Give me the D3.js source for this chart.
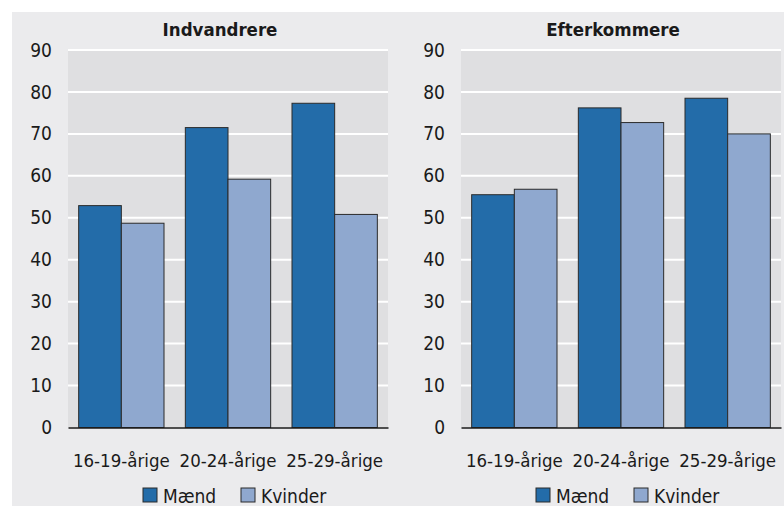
<!DOCTYPE html>
<html>
<head>
<meta charset="utf-8">
<script src="https://cdn.jsdelivr.net/npm/d3@7"></script>
<style>
  html, body { margin: 0; padding: 0; background: #ffffff; }
  svg { display: block; }
  text { font-family: "DejaVu Sans Condensed", "DejaVu Sans", sans-serif; fill: #1a1a1a; }
</style>
</head>
<body>
<svg id="chart" width="784" height="506"></svg>
<script>
const categories = ["16-19-årige", "20-24-årige", "25-29-årige"];
const seriesNames = ["Mænd", "Kvinder"];
const panelTitles = ["Indvandrere", "Efterkommere"];
const indvandrereMaend = [52.9, 71.5, 77.3];
const indvandrereKvinder = [48.7, 59.2, 50.8];
const efterkommereMaend = [55.5, 76.2, 78.5];
const efterkommereKvinder = [56.8, 72.7, 70.0];
const yTicks = [0, 10, 20, 30, 40, 50, 60, 70, 80, 90];

const panels = [
  { title: panelTitles[0], values: [indvandrereMaend, indvandrereKvinder], left: 68 },
  { title: panelTitles[1], values: [efterkommereMaend, efterkommereKvinder], left: 461 }
];
const colors = ["#236ca9", "#8fa8cf"];

const svg = d3.select("#chart");
// outer background
svg.append("rect").attr("x", 12).attr("y", 12).attr("width", 772).attr("height", 494).attr("fill", "#ebebed");

const plotW = 320, plotTop = 50, plotBottom = 427.5;
const y = d3.scaleLinear().domain([0, 90]).range([plotBottom, plotTop]);

panels.forEach(p => {
  const g = svg.append("g").attr("transform", `translate(${p.left},0)`);
  const x0 = d3.scaleBand().domain(categories).range([0, plotW]).paddingInner(0.2).paddingOuter(0.1);
  const x1 = d3.scaleBand().domain(seriesNames).range([0, x0.bandwidth()]);

  g.append("rect").attr("x", 0).attr("y", plotTop).attr("width", plotW).attr("height", plotBottom - plotTop).attr("fill", "#dfdfe1");

  // gridlines
  g.selectAll("line.grid").data(yTicks.filter(t => t > 0)).join("line")
    .attr("class", "grid")
    .attr("x1", 0).attr("x2", plotW)
    .attr("y1", d => y(d)).attr("y2", d => y(d))
    .attr("stroke", "#ffffff").attr("stroke-width", 2);

  // y axis labels
  const yAxis = d3.axisLeft(y).tickValues(yTicks).tickSize(0).tickPadding(16);
  const ya = g.append("g").call(yAxis);
  ya.select(".domain").remove();
  ya.selectAll("text").attr("font-size", 19).attr("fill", "#1a1a1a")
    .style("font-family", '"DejaVu Sans Condensed", "DejaVu Sans", sans-serif');

  // bars
  categories.forEach((c, ci) => {
    seriesNames.forEach((s, si) => {
      const v = p.values[si][ci];
      g.append("rect")
        .attr("x", x0(c) + x1(s))
        .attr("y", y(v))
        .attr("width", x1.bandwidth())
        .attr("height", y(0) - y(v))
        .attr("fill", colors[si])
        .attr("stroke", "#2b2b2b")
        .attr("stroke-width", 1);
    });
  });

  // x axis
  const xAxis = d3.axisBottom(x0).tickSize(0).tickPadding(26);
  const xa = g.append("g").attr("transform", `translate(0,${plotBottom})`).call(xAxis);
  xa.select(".domain").attr("stroke", "#1a1a1a").attr("stroke-width", 1.5);
  xa.selectAll("text").attr("font-size", 18.5).attr("fill", "#1a1a1a")
    .style("font-family", '"DejaVu Sans Condensed", "DejaVu Sans", sans-serif');

  // title
  g.append("text").attr("x", plotW / 2 - 8).attr("y", 36)
    .attr("text-anchor", "middle").attr("font-weight", "bold").attr("font-size", 18.5)
    .text(p.title);

  // legend
  const leg = g.append("g");
  const legItems = [{ name: seriesNames[0], x: 75 }, { name: seriesNames[1], x: 173 }];
  legItems.forEach((it, i) => {
    leg.append("rect").attr("x", it.x).attr("y", 488).attr("width", 14).attr("height", 14)
      .attr("fill", colors[i]).attr("stroke", "#2b2b2b").attr("stroke-width", 1);
    leg.append("text").attr("x", it.x + 20).attr("y", 502.5).attr("font-size", 19).text(it.name);
  });
});
</script>
</body>
</html>
